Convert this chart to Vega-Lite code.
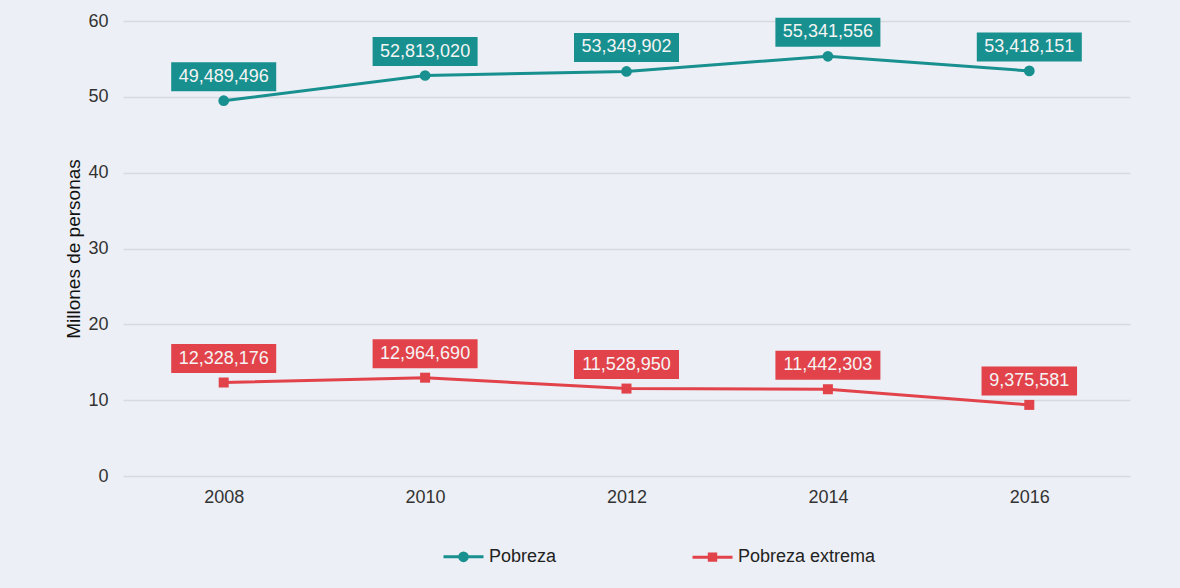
{
  "$schema": "https://vega.github.io/schema/vega-lite/v6.json",
  "width": 1007,
  "height": 455,
  "autosize": {"type": "none"},
  "padding": {"left": 123, "top": 21, "right": 50, "bottom": 112},
  "background": "#eceff5",
  "config": {
    "view": {"stroke": null},
    "font": "Liberation Sans",
    "axis": {"labelFont": "Liberation Sans", "titleFont": "Liberation Sans"}
  },
  "data": {
    "values": [
      {"anio": "2008", "serie": "Pobreza", "personas": 49489496},
      {"anio": "2010", "serie": "Pobreza", "personas": 52813020},
      {"anio": "2012", "serie": "Pobreza", "personas": 53349902},
      {"anio": "2014", "serie": "Pobreza", "personas": 55341556},
      {"anio": "2016", "serie": "Pobreza", "personas": 53418151},
      {"anio": "2008", "serie": "Pobreza extrema", "personas": 12328176},
      {"anio": "2010", "serie": "Pobreza extrema", "personas": 12964690},
      {"anio": "2012", "serie": "Pobreza extrema", "personas": 11528950},
      {"anio": "2014", "serie": "Pobreza extrema", "personas": 11442303},
      {"anio": "2016", "serie": "Pobreza extrema", "personas": 9375581}
    ]
  },
  "encoding": {
    "x": {
      "field": "anio", "type": "ordinal",
      "scale": {"type": "point", "padding": 0.5},
      "axis": {"title": null, "labelAngle": 0, "domain": false, "ticks": false, "grid": false,
               "labelFontSize": 18, "labelColor": "#333333", "labelPadding": 12}
    },
    "y": {
      "field": "personas", "type": "quantitative",
      "scale": {"domain": [0, 60000000], "nice": false, "zero": true},
      "axis": {"title": "Millones de personas", "values": [0, 10000000, 20000000, 30000000, 40000000, 50000000, 60000000],
               "labelExpr": "datum.value / 1000000", "domain": false, "ticks": false,
               "grid": true, "gridColor": "#d6d9e0", "gridWidth": 1.5,
               "labelFontSize": 18, "labelColor": "#333333", "labelPadding": 15,
               "titleFontSize": 19, "titleFontWeight": "normal", "titleColor": "#111111", "titlePadding": 4}
    }
  },
  "layer": [
    {
      "mark": {"type": "line", "strokeWidth": 3},
      "encoding": {
        "color": {
          "field": "serie", "type": "nominal",
          "scale": {"domain": ["Pobreza", "Pobreza extrema"], "range": ["#17908f", "#e2434b"]},
          "legend": {
            "title": null, "orient": "none", "legendX": 319, "legendY": 514,
            "direction": "horizontal", "columns": 2, "columnPadding": 129, "padding": 0,
            "symbolSize": 1600, "labelOffset": 4, "labelFontSize": 18, "labelColor": "#222222",
            "labelFont": "Liberation Sans",
            "symbolType": {"expr": "datum.value == 'Pobreza' ? 'M-1,0H1M-0.19,0A0.19,0.19,0,1,0,0.19,0A0.19,0.19,0,1,0,-0.19,0Z' : 'M-1,0H1M-0.16,-0.16H0.16V0.16H-0.16Z'"},
            "symbolStrokeWidth": 3,
            "encode": {
              "symbols": {
                "update": {
                  "shape": {"signal": "datum.value == 'Pobreza' ? 'M-1,0H1M-0.19,0A0.19,0.19,0,1,0,0.19,0A0.19,0.19,0,1,0,-0.19,0Z' : 'M-1,0H1M-0.16,-0.16H0.16V0.16H-0.16Z'"},
                  "fill": {"signal": "datum.value == 'Pobreza' ? '#17908f' : '#e2434b'"},
                  "stroke": {"signal": "datum.value == 'Pobreza' ? '#17908f' : '#e2434b'"},
                  "opacity": {"value": 1}
                }
              }
            }
          }
        }
      }
    },
    {
      "transform": [{"filter": "datum.serie == 'Pobreza'"}],
      "mark": {"type": "point", "shape": "circle", "filled": true, "size": 115, "opacity": 1, "color": "#17908f"},
      "encoding": {}
    },
    {
      "transform": [{"filter": "datum.serie == 'Pobreza extrema'"}],
      "mark": {"type": "point", "shape": "square", "filled": true, "size": 100, "opacity": 1, "color": "#e2434b"},
      "encoding": {}
    },
    {
      "mark": {"type": "rect", "height": 29, "yOffset": -24, "width": {"expr": "length(format(datum.personas, ',')) * 9.5 + 10"}},
      "encoding": {
        "color": {"field": "serie", "type": "nominal", "legend": null}
      }
    },
    {
      "mark": {"type": "text", "yOffset": -24, "fontSize": 18, "baseline": "middle", "align": "center", "color": "#f4f4f4", "font": "Liberation Sans"},
      "encoding": {
        "text": {"field": "personas", "type": "quantitative", "format": ","}
      }
    }
  ]
}
